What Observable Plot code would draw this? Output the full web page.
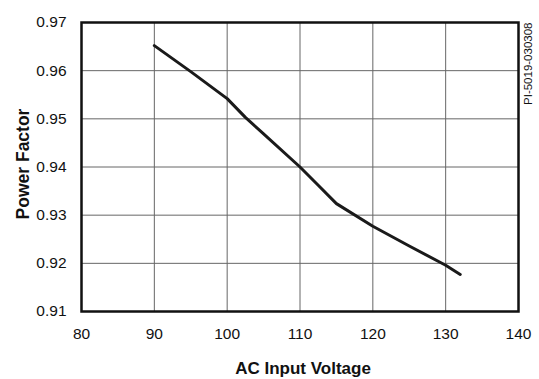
<!DOCTYPE html>
<html>
<head>
<meta charset="utf-8">
<script src="https://cdn.jsdelivr.net/npm/d3@7"></script>
<script src="https://cdn.jsdelivr.net/npm/@observablehq/plot@0.6"></script>
<style>
  html, body { margin: 0; padding: 0; background: #fff; }
  #chart svg { display: block; }
</style>
</head>
<body>
<div id="chart"></div>
<script>
const voltages = [90, 95, 100, 102.5, 105, 110, 112.5, 115, 120, 125, 130, 132];
const powerFactor = [0.9652, 0.9598, 0.9542, 0.9503, 0.9469, 0.9400, 0.9362, 0.9324, 0.9277, 0.9236, 0.9196, 0.9177];
const xTicks = [80, 90, 100, 110, 120, 130, 140];
const yTicks = [0.91, 0.92, 0.93, 0.94, 0.95, 0.96, 0.97];
const xTitle = "AC Input Voltage";
const yTitle = "Power Factor";
const docId = "PI-5019-030308";

const rows = voltages.map((v, i) => ({v, pf: powerFactor[i]}));

const chart = Plot.plot({
  width: 539,
  height: 379,
  marginLeft: 81,
  marginRight: 21,
  marginTop: 22,
  marginBottom: 68,
  style: {fontFamily: "'Liberation Sans', Arial, Helvetica, sans-serif", background: "#fff"},
  x: {domain: [80, 140]},
  y: {domain: [0.91, 0.97]},
  marks: [
    Plot.gridX(xTicks, {stroke: "#666", strokeOpacity: 1, strokeWidth: 1}),
    Plot.gridY(yTicks, {stroke: "#666", strokeOpacity: 1, strokeWidth: 1}),
    Plot.axisX(xTicks, {tickSize: 0, tickPadding: 16, fontSize: 15.5, fill: "#111", label: null, tickFormat: d => String(d)}),
    Plot.axisY(yTicks, {tickSize: 0, tickPadding: 15, fontSize: 15.5, fill: "#111", label: null, tickFormat: d => d.toFixed(2)}),
    Plot.line(rows, {x: "v", y: "pf", stroke: "#1a1a1a", strokeWidth: 3, strokeLinejoin: "round"}),
    Plot.frame({stroke: "#111", strokeWidth: 2.5}),
    Plot.text([xTitle], {text: d => d, frameAnchor: "bottom", lineAnchor: "middle", dy: 57, dx: 3, fontSize: 17, fontWeight: "bold", fill: "#111"}),
    Plot.text([yTitle], {text: d => d, frameAnchor: "left", rotate: -90, textAnchor: "middle", lineAnchor: "middle", dx: -58, dy: -3, fontSize: 17.5, fontWeight: "bold", fill: "#111"}),
    Plot.text([docId], {text: d => d, frameAnchor: "top-right", rotate: -90, textAnchor: "end", lineAnchor: "middle", dx: 10, fontSize: 11.5, fill: "#111"})
  ]
});
document.getElementById("chart").appendChild(chart);
</script>
</body>
</html>
